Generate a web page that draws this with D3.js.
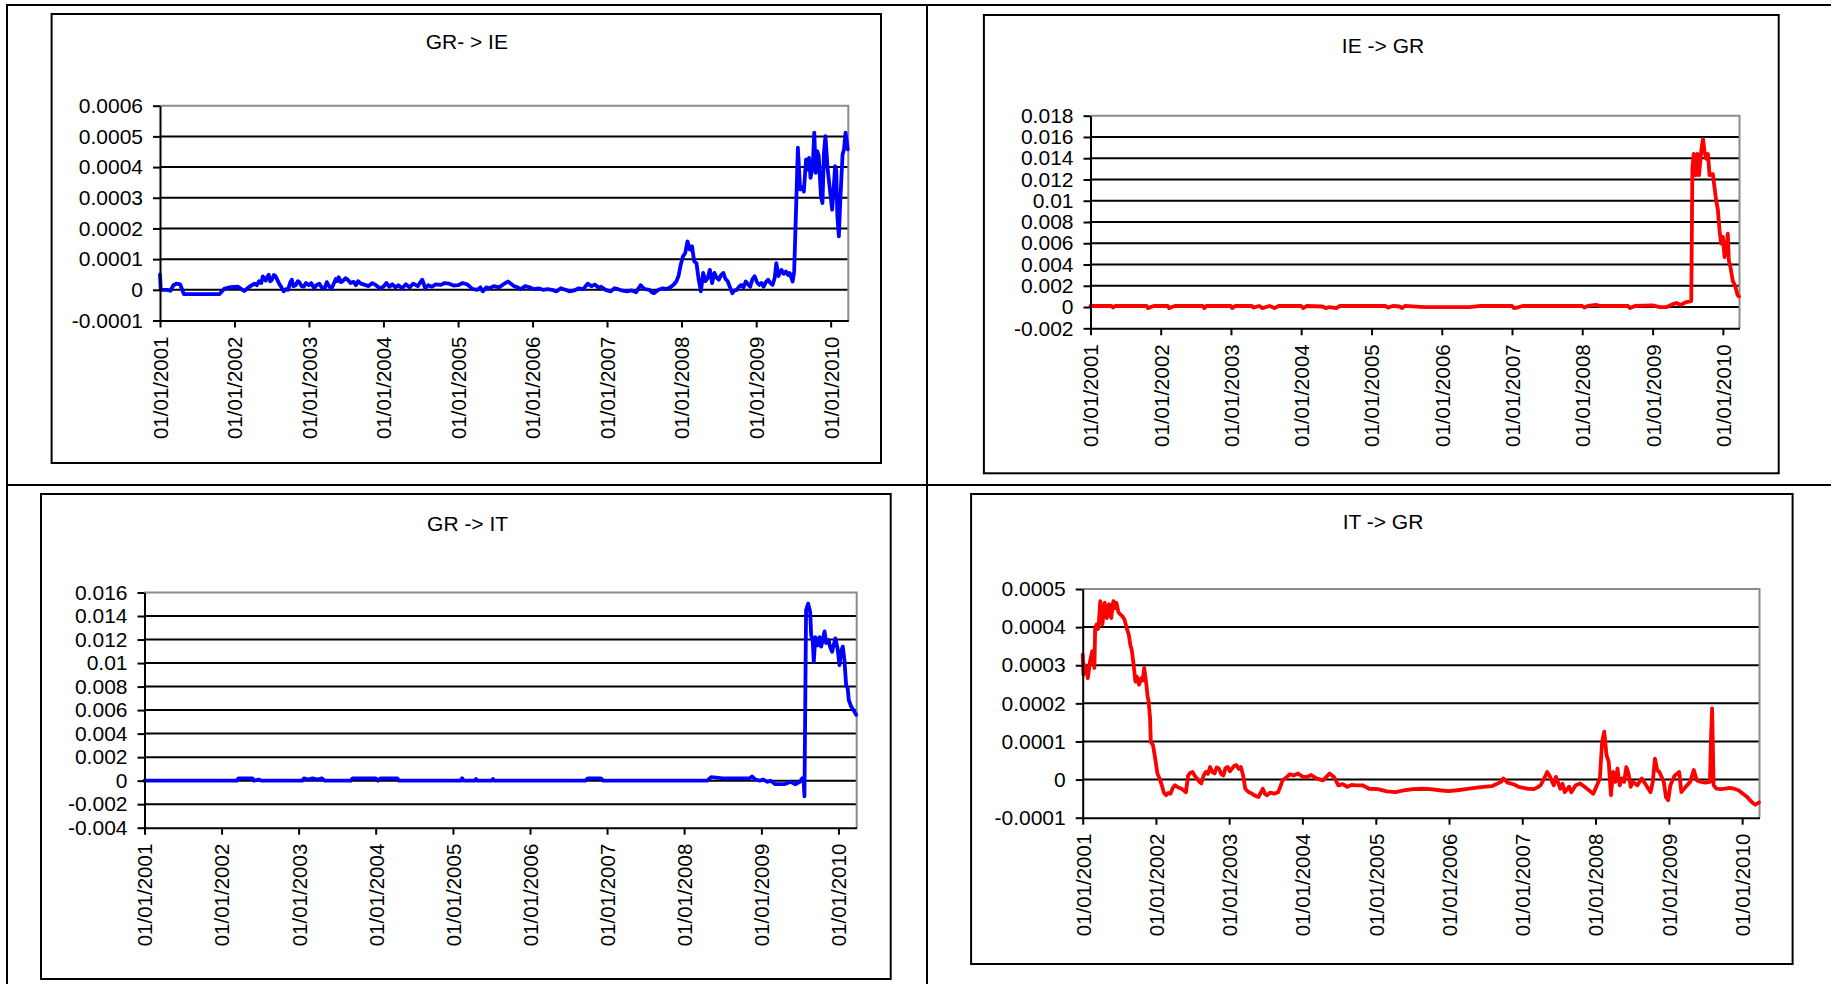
<!DOCTYPE html>
<html>
<head>
<meta charset="utf-8">
<script src="https://cdn.jsdelivr.net/npm/d3@7"></script>
<style>
  html, body { margin: 0; padding: 0; background: #fff; }
  svg { display: block; }
  text { font-family: "Liberation Sans", Arial, sans-serif; fill: #000; }
</style>
</head>
<body>
<svg id="chart" width="1831" height="984"></svg>
<script>
// ---------------- DATA (decimal year, value) ----------------
const titles = ["GR- > IE", "IE -> GR", "GR -> IT", "IT -> GR"];
const xTickYears = [2001, 2002, 2003, 2004, 2005, 2006, 2007, 2008, 2009, 2010];
const xDomainYears = [2001.0, 2010.237];

const grIEYTicks = [-0.0001, 0, 0.0001, 0.0002, 0.0003, 0.0004, 0.0005, 0.0006];
const ieGRYTicks = [-0.002, 0, 0.002, 0.004, 0.006, 0.008, 0.01, 0.012, 0.014, 0.016, 0.018];
const grITYTicks = [-0.004, -0.002, 0, 0.002, 0.004, 0.006, 0.008, 0.01, 0.012, 0.014, 0.016];
const itGRYTicks = [-0.0001, 0, 0.0001, 0.0002, 0.0003, 0.0004, 0.0005];

const grIE = [
[2001.00,0.00005],[2001.01,0.0],[2001.10,0.0],[2001.14,-0.000003],[2001.18,0.000015],[2001.22,0.00002],[2001.27,0.000018],
[2001.32,-0.000014],[2001.55,-0.000014],[2001.80,-0.000014],[2001.86,0.000003],[2001.95,0.000009],[2002.05,0.00001],
[2002.13,-0.000004],[2002.20,0.00001],[2002.27,0.00002],[2002.30,0.000015],[2002.33,0.000028],[2002.36,0.000022],[2002.38,0.000044],[2002.42,0.00003],
[2002.44,0.000042],[2002.46,0.000049],[2002.48,0.000028],[2002.50,0.000032],[2002.53,0.000048],[2002.55,0.000045],[2002.58,0.00003],[2002.60,0.00002],[2002.63,0.000008],[2002.66,-0.000005],[2002.69,0.000002],[2002.72,0.0],
[2002.75,0.000025],[2002.77,0.000033],[2002.79,0.000012],[2002.82,0.000015],[2002.85,0.000028],[2002.87,0.000025],[2002.90,0.000012],[2002.93,0.00001],[2002.96,0.000022],[2003.00,0.000015],[2003.03,0.000022],[2003.07,0.000005],
[2003.10,0.000015],[2003.14,0.00002],[2003.17,0.000008],[2003.21,0.000005],[2003.24,0.000025],[2003.27,0.000012],[2003.30,0.000003],[2003.33,0.000018],[2003.36,0.000035],[2003.38,0.000028],[2003.40,0.000041],
[2003.43,0.000025],[2003.46,0.00003],[2003.49,0.000038],[2003.52,0.000033],[2003.56,0.000022],[2003.60,0.000026],[2003.63,0.000015],[2003.66,0.000028],[2003.70,0.00002],[2003.75,0.000016],[2003.80,0.000012],[2003.85,0.000022],[2003.90,0.000015],
[2003.95,0.000005],[2004.00,0.00001],[2004.04,0.000022],[2004.08,0.00001],[2004.12,0.000018],[2004.16,0.000008],[2004.20,0.000015],[2004.25,0.000005],[2004.30,0.000018],[2004.35,0.000008],[2004.40,0.00002],[2004.46,0.000012],[2004.52,0.000033],[2004.56,0.000005],
[2004.60,0.000015],[2004.65,0.00001],[2004.70,0.000018],[2004.77,0.000016],[2004.82,0.000022],[2004.88,0.00002],[2004.94,0.000014],[2005.00,0.000015],[2005.06,0.000022],[2005.12,0.000018],[2005.16,0.00001],[2005.19,0.000003],
[2005.26,0.0],[2005.30,0.000008],[2005.33,-0.000005],[2005.38,0.000008],[2005.42,0.000005],[2005.48,0.000012],[2005.55,0.000008],[2005.62,0.00002],[2005.67,0.000027],[2005.71,0.00002],
[2005.75,0.000012],[2005.80,0.000008],[2005.84,0.000002],[2005.90,0.000012],[2005.96,0.000008],[2006.02,0.000002],[2006.08,0.000005],[2006.14,0.0],[2006.20,0.000002],[2006.26,0.0],[2006.32,-0.000005],
[2006.38,0.000005],[2006.44,0.0],[2006.50,-0.000005],[2006.56,-0.000002],[2006.62,0.000005],[2006.68,0.000002],[2006.74,0.00002],[2006.79,0.000012],[2006.84,0.000017],[2006.88,0.000008],[2006.92,0.00001],
[2006.98,0.0],[2007.05,-0.000005],[2007.10,0.000005],[2007.15,0.000002],[2007.21,-0.000003],[2007.27,-0.000005],[2007.33,-0.000002],[2007.39,-0.000008],[2007.45,0.000015],[2007.48,0.000008],[2007.51,0.000002],
[2007.57,0.0],[2007.60,-0.000008],[2007.63,-0.000011],[2007.69,0.0],[2007.75,0.000005],[2007.80,0.000002],[2007.86,0.00001],[2007.90,0.000018],[2007.93,0.000027],[2007.96,0.000045],[2007.99,0.000082],
[2008.02,0.000109],[2008.05,0.00012],[2008.08,0.000158],[2008.11,0.000131],[2008.14,0.000142],[2008.17,0.000093],
[2008.20,0.000087],[2008.23,0.000033],[2008.26,-0.000005],[2008.29,0.000055],[2008.32,0.000028],[2008.35,0.000038],[2008.38,0.000065],
[2008.41,0.000022],[2008.44,0.000055],[2008.47,0.00004],[2008.50,0.000033],[2008.53,0.000048],[2008.56,0.000055],[2008.59,0.000035],[2008.62,0.000027],[2008.65,0.000008],[2008.68,-0.000011],
[2008.71,-0.000002],[2008.74,0.0],[2008.77,0.00001],[2008.80,0.000016],[2008.83,0.000008],[2008.86,0.000027],[2008.89,0.000018],[2008.92,0.00001],[2008.95,0.000035],[2008.98,0.000044],[2009.01,0.000025],[2009.04,0.000016],
[2009.07,0.000022],[2009.10,0.00001],[2009.13,0.000025],[2009.16,0.000033],[2009.19,0.000022],[2009.22,0.000016],[2009.25,0.00004],[2009.27,0.000087],[2009.30,0.000045],[2009.34,0.000065],
[2009.37,0.000052],[2009.40,0.00006],[2009.43,0.000048],[2009.45,0.000055],[2009.49,0.000027],[2009.51,0.00006],[2009.53,0.000218],[2009.56,0.000463],
[2009.59,0.000327],[2009.62,0.000335],[2009.64,0.00032],[2009.67,0.000425],[2009.69,0.000392],[2009.71,0.00043],
[2009.73,0.000365],[2009.76,0.000403],[2009.78,0.000512],[2009.80,0.000381],[2009.82,0.000452],[2009.84,0.000436],
[2009.87,0.000305],[2009.89,0.000283],[2009.91,0.000447],[2009.93,0.000501],[2009.96,0.000392],[2009.98,0.000349],
[2010.00,0.000305],[2010.02,0.000261],[2010.04,0.000327],[2010.06,0.000403],[2010.075,0.00039],[2010.09,0.00024],
[2010.11,0.000174],[2010.13,0.000294],[2010.16,0.000441],[2010.18,0.000458],[2010.20,0.000512],[2010.23,0.000458]
];

const ieGR = [
[2001.00,0.0001],[2001.30,0.0001],[2001.32,-0.00005],[2001.35,0.0001],[2001.80,0.0001],[2001.82,-0.0001],[2001.86,0.0],
[2001.90,0.0001],[2002.10,0.0001],[2002.12,-0.0001],[2002.16,0.0],[2002.20,0.0001],[2002.60,0.0001],[2002.62,-0.0001],
[2002.65,0.0001],[2003.00,0.0001],[2003.02,-0.0001],[2003.06,0.0001],[2003.30,0.0001],[2003.32,-0.00005],[2003.40,0.0001],
[2003.45,-0.0001],[2003.50,0.0],[2003.55,0.0001],[2003.62,-0.0001],[2003.68,0.0001],[2004.00,0.0001],[2004.03,-0.0001],
[2004.08,0.0001],[2004.30,0.00005],[2004.35,-0.0001],[2004.40,0.0],[2004.50,-0.0001],[2004.55,0.0001],[2005.20,0.0001],
[2005.23,-0.00005],[2005.30,0.0001],[2005.40,0.00005],[2005.43,-0.0001],[2005.48,0.0001],[2005.75,0.0],[2006.40,0.0],
[2006.55,0.0001],[2007.00,0.0001],[2007.03,-0.0001],[2007.10,0.0],[2007.15,0.0001],[2008.00,0.0001],[2008.03,-0.00005],
[2008.08,0.0001],[2008.20,0.0002],[2008.25,0.0001],[2008.65,0.0001],[2008.68,-0.0001],[2008.75,0.0001],[2009.00,0.00015],
[2009.10,0.0],[2009.20,0.0],[2009.30,0.0003],[2009.34,0.00038],[2009.40,0.0002],[2009.48,0.00047],[2009.55,0.00056],
[2009.566,0.013],[2009.585,0.0144],[2009.613,0.0124],[2009.637,0.0144],[2009.66,0.0124],[2009.693,0.0147],
[2009.717,0.0158],[2009.74,0.0146],[2009.764,0.01395],[2009.788,0.0144],[2009.81,0.0124],[2009.858,0.0125],
[2009.88,0.0113],[2009.906,0.01],[2009.93,0.0091],[2009.953,0.0072],[2009.976,0.00596],[2010.00,0.0066],
[2010.024,0.0047],[2010.047,0.0053],[2010.07,0.0069],[2010.085,0.0044],[2010.108,0.00376],[2010.14,0.0025],
[2010.18,0.00188],[2010.21,0.0011],[2010.23,0.001]
];

const grIT = [
[2001.00,0.0],[2002.20,0.0],[2002.22,0.0002],[2002.40,0.0002],[2002.42,0.0],[2002.48,0.0001],[2002.52,0.0],
[2003.05,0.0],[2003.07,0.0002],[2003.12,0.0001],[2003.18,0.0002],[2003.25,0.0001],[2003.30,0.0002],[2003.34,0.0],
[2003.68,0.0],[2003.70,0.0002],[2004.00,0.0002],[2004.03,0.0],[2004.06,0.0002],[2004.28,0.0002],[2004.30,0.0],
[2005.10,0.0],[2005.12,0.0002],[2005.14,0.0],[2005.28,0.0],[2005.30,0.00015],[2005.32,0.0],[2005.50,0.0],
[2005.52,0.00015],[2005.54,0.0],[2006.72,0.0],[2006.75,0.0002],[2006.92,0.0002],[2006.95,0.0],[2008.30,0.0],
[2008.35,0.0003],[2008.50,0.0002],[2008.85,0.0002],[2008.88,0.00035],[2008.92,0.0001],[2008.98,0.0],[2009.02,0.0001],
[2009.08,-0.0001],[2009.12,0.0],[2009.18,-0.0003],[2009.30,-0.0003],[2009.38,-0.0001],[2009.44,-0.0003],
[2009.50,-0.0001],[2009.53,0.0002],[2009.55,-0.0002],[2009.559,-0.00133],[2009.58,0.0145],[2009.607,0.01505],
[2009.633,0.01435],[2009.646,0.0124],[2009.667,0.0118],[2009.68,0.0101],[2009.70,0.0122],[2009.73,0.0115],
[2009.754,0.0122],[2009.776,0.0114],[2009.82,0.0127],[2009.84,0.0117],[2009.874,0.01195],[2009.89,0.0114],
[2009.918,0.01096],[2009.96,0.0121],[2009.99,0.0112],[2010.013,0.00983],[2010.035,0.01096],[2010.056,0.0114],
[2010.078,0.01025],[2010.10,0.0081],[2010.12,0.00785],[2010.134,0.00686],[2010.165,0.0063],[2010.195,0.006],
[2010.23,0.0056]
];

const itGR = [
[2001.00,0.000328],[2001.01,0.000275],[2001.03,0.0003],[2001.05,0.000293],[2001.07,0.000266],[2001.10,0.00031],[2001.13,0.000337],
[2001.16,0.000293],[2001.17,0.000398],[2001.19,0.000407],[2001.21,0.000395],[2001.22,0.00041],[2001.24,0.000468],[2001.255,0.00042],[2001.27,0.000407],
[2001.29,0.00045],[2001.30,0.000464],[2001.32,0.00043],[2001.33,0.000424],[2001.35,0.000455],[2001.36,0.00046],[2001.38,0.00043],[2001.39,0.000424],[2001.41,0.00046],[2001.42,0.000468],[2001.44,0.00045],[2001.46,0.000464],
[2001.49,0.000438],[2001.54,0.000429],[2001.57,0.00042],[2001.60,0.000398],[2001.63,0.00038],[2001.65,0.000354],[2001.67,0.00034],[2001.69,0.00031],[2001.72,0.000257],
[2001.74,0.00027],[2001.77,0.000249],[2001.80,0.000266],[2001.82,0.00026],[2001.84,0.000293],[2001.87,0.000249],[2001.885,0.00022],[2001.90,0.000205],[2001.92,0.000161],
[2001.93,0.000099],[2001.96,0.00009],[2001.99,0.000055],[2002.02,0.000016],[2002.05,0.000003],[2002.08,-0.000015],
[2002.11,-0.000035],[2002.14,-0.000041],[2002.17,-0.000035],[2002.20,-0.000037],[2002.23,-0.000022],[2002.26,-0.000015],[2002.30,-0.00002],[2002.35,-0.000024],[2002.41,-0.000033],[2002.44,0.000011],
[2002.47,0.000018],[2002.50,0.00002],[2002.53,0.00001],[2002.56,0.000003],[2002.59,-0.000005],[2002.62,-0.00001],[2002.65,0.00001],[2002.68,0.00002],[2002.71,0.000015],[2002.74,0.000033],[2002.77,0.00002],[2002.80,0.000016],
[2002.83,0.000032],[2002.86,0.000029],[2002.89,0.000015],[2002.92,0.000011],[2002.95,0.00003],[2002.98,0.000033],[2003.01,0.000022],[2003.04,0.000029],[2003.07,0.000036],[2003.10,0.000038],[2003.13,0.000028],[2003.16,0.000033],
[2003.19,0.000011],[2003.22,-0.000024],[2003.26,-0.000032],[2003.31,-0.000037],[2003.35,-0.000042],[2003.40,-0.000046],[2003.43,-0.000035],[2003.46,-0.000024],[2003.49,-0.000038],[2003.52,-0.000041],
[2003.56,-0.000034],[2003.61,-0.000037],[2003.67,-0.000033],[2003.73,-0.000002],[2003.79,0.000007],[2003.83,0.000014],[2003.88,0.000011],[2003.94,0.000016],
[2004.00,0.000008],[2004.06,0.000007],[2004.12,0.000012],[2004.19,0.000003],[2004.28,-0.000002],[2004.37,0.000016],[2004.43,0.000007],[2004.49,-0.000015],
[2004.55,-0.000012],[2004.61,-0.000019],[2004.67,-0.000014],[2004.73,-0.000015],[2004.82,-0.000015],[2004.91,-0.000024],[2005.03,-0.000025],[2005.15,-0.000031],
[2005.27,-0.000033],[2005.39,-0.000028],[2005.51,-0.000025],[2005.63,-0.000024],[2005.75,-0.000025],[2005.87,-0.000028],
[2005.99,-0.00003],[2006.11,-0.000028],[2006.23,-0.000025],[2006.35,-0.000022],[2006.47,-0.000019],[2006.59,-0.000017],
[2006.71,-0.000006],[2006.74,0.000003],[2006.80,-0.000008],[2006.89,-0.000013],[2006.95,-0.000019],[2007.07,-0.000024],
[2007.16,-0.000025],[2007.22,-0.000019],[2007.25,-0.000015],[2007.31,0.000007],[2007.34,0.00002],[2007.37,0.000011],
[2007.43,-0.000015],[2007.46,0.000007],[2007.52,-0.000024],[2007.55,-0.000011],[2007.58,-0.000033],[2007.64,-0.000019],
[2007.67,-0.000033],[2007.73,-0.000015],[2007.79,-0.00001],[2007.85,-0.000019],[2007.91,-0.000028],[2007.97,-0.000037],
[2008.02,-0.000015],[2008.06,0.000003],[2008.09,0.000099],[2008.12,0.000126],[2008.15,0.000064],[2008.18,0.000047],
[2008.21,-0.000041],[2008.24,0.00002],[2008.27,-0.000006],[2008.30,0.000029],[2008.33,-0.000015],[2008.36,0.000003],
[2008.39,-0.000006],[2008.42,0.000033],[2008.45,0.000016],[2008.48,-0.000019],[2008.51,-0.000006],[2008.57,-0.000015],
[2008.63,0.000003],[2008.69,-0.000015],[2008.75,-0.000033],[2008.78,-0.000006],[2008.81,0.000055],[2008.84,0.000025],
[2008.87,0.00002],[2008.93,-0.000006],[2008.96,-0.000046],[2008.99,-0.000054],[2009.02,-0.000015],[2009.08,0.000011],
[2009.14,0.00002],[2009.17,-0.000033],[2009.23,-0.000019],[2009.29,-0.000006],[2009.34,0.000025],[2009.38,-0.000002],
[2009.44,-0.000006],[2009.50,-0.000008],[2009.56,-0.000006],[2009.575,0.000108],[2009.59,0.000187],[2009.61,-0.000015],
[2009.65,-0.000024],[2009.71,-0.000025],[2009.77,-0.000024],[2009.83,-0.000022],[2009.89,-0.000024],[2009.95,-0.000028],
[2010.01,-0.000037],[2010.07,-0.000046],[2010.13,-0.000059],[2010.18,-0.000066],[2010.23,-0.00006]
];

// ---------------- LAYOUT ----------------
const panels = [
  { title: titles[0], data: grIE, yTicks: grIEYTicks, color: "#0000ff", fmt: ".4~f",
    box: [51.6, 14, 881, 463], plot: [160, 105.7, 848.3, 320.5], titleX: 466.8, titleY: 49 },
  { title: titles[1], data: ieGR, yTicks: ieGRYTicks, color: "#ff0000", fmt: ".3~f",
    box: [983.9, 15, 1778.7, 473.3], plot: [1090.5, 115.7, 1739.5, 328.3], titleX: 1383, titleY: 52.5 },
  { title: titles[2], data: grIT, yTicks: grITYTicks, color: "#0000ff", fmt: ".3~f",
    box: [41, 494, 890.7, 979], plot: [144.5, 592.5, 856.7, 827.7], titleX: 467.6, titleY: 531 },
  { title: titles[3], data: itGR, yTicks: itGRYTicks, color: "#ff0000", fmt: ".4~f",
    box: [971.1, 494, 1792.6, 964], plot: [1082.7, 589, 1759.5, 817.7], titleX: 1383, titleY: 529.3 }
];

const locale = d3.formatLocale({ decimal: ".", thousands: ",", grouping: [3], currency: ["", ""], minus: "-" });
const decYear = y => {
  const yr = Math.floor(y);
  const s = Date.UTC(yr, 0, 1), e = Date.UTC(yr + 1, 0, 1);
  return new Date(s + (y - yr) * (e - s));
};

const svg = d3.select("#chart");
svg.append("rect").attr("width", 1831).attr("height", 984).attr("fill", "#fff");

// table grid lines
const grid = svg.append("g").attr("stroke", "#000").attr("stroke-width", 2);
grid.append("line").attr("x1", 6).attr("x2", 1831).attr("y1", 5).attr("y2", 5);
grid.append("line").attr("x1", 7).attr("x2", 7).attr("y1", 4).attr("y2", 984);
grid.append("line").attr("x1", 927).attr("x2", 927).attr("y1", 4).attr("y2", 984);
grid.append("line").attr("x1", 6).attr("x2", 1831).attr("y1", 485).attr("y2", 485);

panels.forEach((p, i) => {
  const g = svg.append("g");
  const [bx0, by0, bx1, by1] = p.box;
  g.append("rect").attr("x", bx0).attr("y", by0).attr("width", bx1 - bx0).attr("height", by1 - by0)
    .attr("fill", "#fff").attr("stroke", "#000").attr("stroke-width", 2);

  g.append("text").attr("x", p.titleX).attr("y", p.titleY).attr("text-anchor", "middle")
    .style("font-size", "21px").text(p.title);

  const [px0, py0, px1, py1] = p.plot;
  const x = d3.scaleUtc().domain(xDomainYears.map(decYear)).range([px0, px1]);
  const y = d3.scaleLinear().domain(d3.extent(p.yTicks)).range([py1, py0]);
  const fmt = locale.format(p.fmt);

  // gridlines
  g.append("g").selectAll("line").data(p.yTicks.slice(1, -1)).join("line")
    .attr("x1", px0).attr("x2", px1).attr("y1", d => y(d)).attr("y2", d => y(d))
    .attr("stroke", "#000").attr("stroke-width", 2);
  // gray top/right border
  g.append("path").attr("d", `M${px0},${py0}H${px1}V${py1}`)
    .attr("fill", "none").attr("stroke", "#8c8c8c").attr("stroke-width", 2);

  // data line
  const line = d3.line().x(d => x(decYear(d[0]))).y(d => y(d[1])).curve(d3.curveLinear);
  g.append("path").datum(p.data).attr("d", line).attr("fill", "none")
    .attr("stroke", p.color).attr("stroke-width", 3.8).attr("stroke-linejoin", "round").attr("stroke-linecap", "round");

  // y axis
  const ya = g.append("g").attr("transform", `translate(${px0},0)`)
    .call(d3.axisLeft(y).tickValues(p.yTicks).tickFormat(fmt).tickSize(7).tickSizeOuter(0).tickPadding(10));
  ya.select(".domain").attr("stroke", "#000").attr("stroke-width", 2);
  ya.selectAll(".tick line").attr("stroke", "#000").attr("stroke-width", 2);
  ya.selectAll(".tick text").style("font-size", "21px").style("font-family", '"Liberation Sans", Arial, sans-serif').attr("fill", "#000");

  // x axis
  const xa = g.append("g").attr("transform", `translate(0,${py1})`)
    .call(d3.axisBottom(x).tickValues(xTickYears.map(decYear)).tickFormat(d3.utcFormat("%d/%m/%Y"))
      .tickSize(7).tickSizeOuter(0));
  xa.select(".domain").attr("stroke", "#000").attr("stroke-width", 2);
  xa.selectAll(".tick line").attr("stroke", "#000").attr("stroke-width", 2);
  xa.selectAll(".tick text")
    .attr("transform", "rotate(-90)").attr("x", -16).attr("y", 0).attr("dy", "0.36em")
    .attr("text-anchor", "end")
    .style("font-size", "20.5px").style("font-family", '"Liberation Sans", Arial, sans-serif').attr("fill", "#000");
});
</script>
</body>
</html>
